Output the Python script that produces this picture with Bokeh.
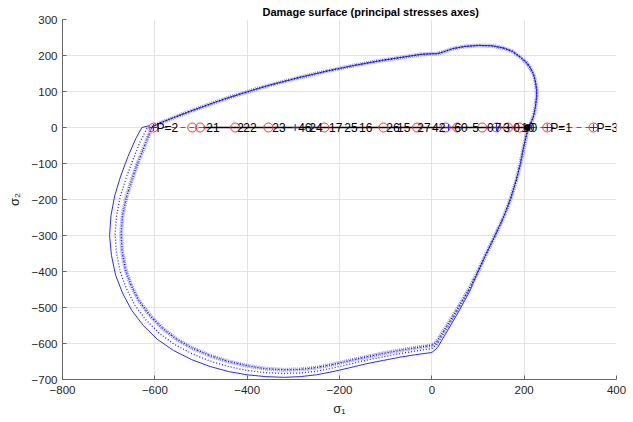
from bokeh.plotting import figure
from bokeh.models import Range1d, FixedTicker
from bokeh.embed import file_html
from bokeh.resources import INLINE

# --- damage surface: shared upper/right arc (sigma1, sigma2) ---
arc_x = [-606, -590, -560, -530, -500, -470, -440, -410, -380, -350,
         -320, -290, -260, -230, -200, -170, -140, -110, -80, -50,
         -25, 0, 12, 25, 45, 70, 100, 130, 155, 175,
         191, 205, 213, 220, 224, 227, 227, 224, 220, 212,
         205, 198, 192, 182, 170, 155, 137, 118, 100]
arc_y = [2, 12, 27, 42, 56, 70, 83, 95, 107, 118,
         128, 138, 147, 156, 164, 172, 179, 186, 192, 198,
         203, 205, 205, 210, 219, 225, 228, 227, 221, 211,
         196, 180, 166, 148, 130, 105, 85, 55, 30, 5,
         -20, -60, -100, -150, -200, -250, -300, -350, -400]

# lower / left branches of the three surfaces
inner_x = [80, 57, 33, 9, 0, -35, -69, -105, -141, -180, -214, -250, -285, -320,
           -360, -400, -440, -480, -520, -555, -585, -612, -635, -652, -664, -671,
           -673, -670, -662, -650, -636, -622, -606]
inner_y = [-450, -500, -550, -598, -605, -612, -619, -627, -637, -648, -658, -667, -672, -673,
           -670, -662, -650, -634, -612, -586, -556, -520, -480, -437, -392, -345,
           -295, -245, -195, -145, -95, -50, 2]

mid_x = [81, 58, 35, 10, 0, -35, -69, -105, -141, -180, -214, -250, -285, -320,
         -360, -400, -440, -480, -520, -558, -590, -619, -643, -661, -675, -683,
         -686, -683, -675, -662, -647, -632, -617, -609]
mid_y = [-452, -503, -555, -605, -614, -621, -628, -637, -646, -658, -668, -677, -682, -683,
         -681, -675, -664, -649, -628, -602, -572, -535, -494, -449, -401, -350,
         -298, -245, -192, -140, -88, -40, -2, 3]

outer_x = [82, 60, 36, 12, 0, -35, -69, -105, -141, -180, -214, -250, -285, -320,
           -360, -400, -440, -480, -520, -560, -595, -625, -650, -670, -685, -694,
           -698, -695, -687, -674, -658, -641, -628, -612]
outer_y = [-455, -507, -560, -612, -625, -631, -638, -647, -656, -668, -678, -687, -692, -694,
           -692, -687, -678, -664, -645, -619, -588, -550, -508, -460, -410, -355,
           -300, -245, -190, -135, -80, -30, 0, 5]

# --- load points on the sigma2 = 0 axis ---
p_x = [-603, 250, 350]
p_labels = ["P=2", "P=1", "P=3"]

num_x = [-495, -428, -415, -352, -296, -272, -229, -196, -164, -105, -82,
         -38, -6, 42, 81, 113, 130, 148, 170, 187, 207]
num_labels = ["21", "2", "22", "23", "46", "24", "17", "25", "16", "26", "15",
              "27", "42", "60", "5", "0", "7", "3", "0", "10", "0"]

circle_x = [-603, -519, -502, -426, -354, -233, -105, -32, 30, 55, 109, 140,
            165, 190, 250, 350]
plus_x = [-603, -296, -260, 36, 140, 250, 350]

x_ticks = [-800, -600, -400, -200, 0, 200, 400]
y_ticks = [-700, -600, -500, -400, -300, -200, -100, 0, 100, 200, 300]

FONT = "Liberation Sans"
INK = "#262626"

p = figure(width=633, height=422, output_backend="svg", toolbar_location=None,
           x_range=Range1d(-800, 400), y_range=Range1d(-700, 300),
           min_border_left=62, min_border_right=17, min_border_top=19,
           min_border_bottom=43)
p.background_fill_color = "white"
p.border_fill_color = "white"
p.outline_line_color = None

p.title.text = "Damage surface (principal stresses axes)"
p.title.align = "left"
p.title.offset = 200
p.title.text_font = FONT
p.title.text_font_size = "11px"
p.title.text_font_style = "bold"
p.title.text_color = "black"
p.title.standoff = 3

for ax, ticks in ((p.xaxis, x_ticks), (p.yaxis, y_ticks)):
    ax.ticker = FixedTicker(ticks=ticks)
    ax.major_tick_in = 4
    ax.major_tick_out = 0
    ax.minor_tick_line_color = None
    ax.axis_line_color = "#666666"
    ax.major_tick_line_color = "#666666"
    ax.major_label_text_font = FONT
    ax.major_label_text_font_size = "11.5px"
    ax.major_label_text_color = INK
    ax.axis_label_text_font = FONT
    ax.axis_label_text_font_size = "13px"
    ax.axis_label_text_font_style = "normal"
    ax.axis_label_text_color = INK

p.xaxis.major_label_standoff = 6
p.yaxis.major_label_standoff = 5
p.xaxis.axis_label = "σ₁"
p.yaxis.axis_label = "σ₂"
p.xaxis.axis_label_standoff = 4
p.yaxis.axis_label_standoff = 7

p.grid.grid_line_color = "#e3e3e3"
p.grid.grid_line_width = 1

# surfaces
p.line(arc_x + outer_x, arc_y + outer_y, line_color="#2b2bff", line_width=1)
p.line(arc_x + mid_x, arc_y + mid_y, line_color="#1f1fff", line_width=1.3,
       line_dash="1 2")
p.line(arc_x + inner_x, arc_y + inner_y, line_color="#6a6aff", line_width=4,
       line_dash="1 1", line_alpha=0.75)
p.line(arc_x + inner_x, arc_y + inner_y, line_color="#0000ee", line_width=1.2,
       line_dash="1 2")

# load path
p.line(sorted(p_x), [0] * len(p_x), line_color="#ff2020", line_width=1,
       line_dash="5 4")
p.line(num_x, [0] * len(num_x), line_color="black", line_width=1.6)

p.scatter(circle_x, [0] * len(circle_x), marker="circle", size=9,
          fill_color=None, line_color="#ff3030", line_width=1)
p.scatter(plus_x, [0] * len(plus_x), marker="cross", size=7,
          line_color="#2020ff", line_width=1)
p.scatter([num_x[-1]], [0], marker="circle", size=6, fill_color="black",
          line_color="black")

p.text(x=p_x, y=[0] * len(p_x), text=p_labels, x_offset=3,
       text_font_size="12px", text_color="black", text_align="left",
       text_baseline="middle", text_font={"value": FONT})
p.text(x=num_x, y=[0] * len(num_x), text=num_labels, x_offset=3,
       text_font_size="12px", text_color="black", text_align="left",
       text_baseline="middle", text_font={"value": FONT})

open("out.html", "w").write(file_html(p, INLINE))
